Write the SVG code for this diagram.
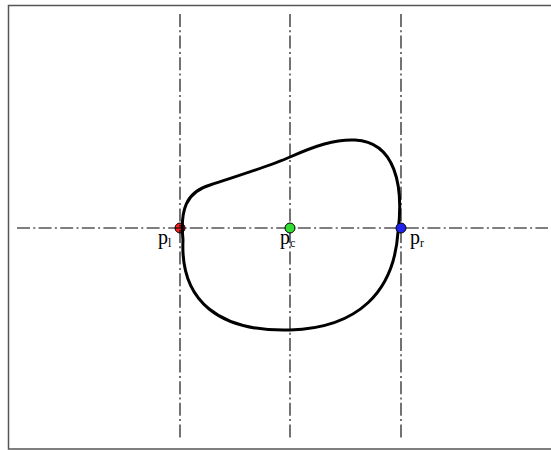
<svg xmlns="http://www.w3.org/2000/svg" width="551" height="450" viewBox="0 0 551 450">
<style>
.axis{stroke:#000;stroke-width:1.1;stroke-dasharray:13 3.3 2 3.3;fill:none}
.pt{stroke:#000;stroke-width:1}
.lbl{font-family:"Liberation Serif",serif;font-size:20px;fill:#000}
.sub{font-size:12px}
</style>
<rect x="8.5" y="5.5" width="560" height="443.5" fill="#fff" stroke="#555" stroke-width="1.5"/>
<g id="point-l"><circle cx="180" cy="228" r="5" fill="#ff2020" class="pt"/></g>
<g id="connectors">
<line class="axis" x1="17" y1="228" x2="548" y2="228"/>
<line class="axis" x1="180" y1="14" x2="180" y2="440"/>
<line class="axis" x1="290" y1="14" x2="290" y2="440"/>
<line class="axis" x1="401" y1="14" x2="401" y2="440"/>
</g>
<g id="shape">
<path d="M183,240 C180,210 186,192 210,185 C240,175 270,166 290,157 C315,146 335,139 355,140 C395,142 404,185 398,232 C394,292 358,328 290,330 C220,332 180,302 183,240 Z" fill="none" stroke="#000" stroke-width="3"/>
</g>
<g id="point-c"><circle cx="290" cy="228" r="5" fill="#33dd33" class="pt"/></g>
<g id="point-r"><circle cx="401" cy="228" r="5" fill="#2222ee" class="pt"/></g>
<g id="labels">
<text class="lbl" x="158" y="244">p<tspan class="sub" dy="3">l</tspan></text>
<text class="lbl" x="280" y="244">p<tspan class="sub" dy="3">c</tspan></text>
<text class="lbl" x="410" y="244">p<tspan class="sub" dy="3">r</tspan></text>
</g>
</svg>
